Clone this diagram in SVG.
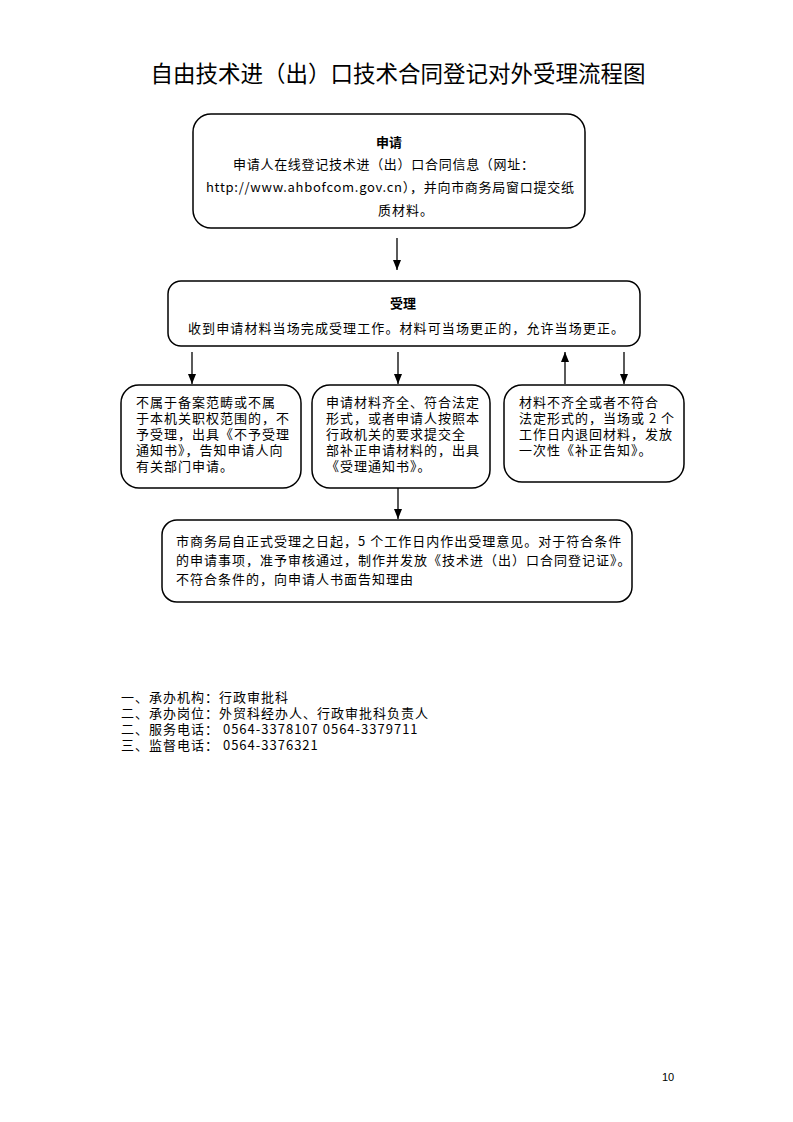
<svg xmlns="http://www.w3.org/2000/svg" width="793" height="1122" viewBox="0 0 793 1122">
<defs>
<marker id="ah" markerWidth="10" markerHeight="8" refX="10" refY="4" orient="auto" markerUnits="userSpaceOnUse" viewBox="0 0 10 8">
<path d="M0,0 L10,4 L0,8 Z" fill="#000"/>
</marker>
<style>
.box{fill:#fff;stroke:#000;stroke-width:1.5}
.t{font-family:"Noto Sans CJK SC","Noto Sans",sans-serif;font-size:13px;letter-spacing:1px;fill:#000}
.b{font-weight:bold;letter-spacing:0}
.c{stroke:#000;stroke-width:1.3;fill:none}
</style>
</defs>
<rect width="793" height="1122" fill="#fff"/>
<text x="398" y="82" text-anchor="middle" style="font-family:'Noto Sans CJK SC',sans-serif;font-size:22.5px;fill:#000">自由技术进（出）口技术合同登记对外受理流程图</text>

<g id="node-apply">
<rect class="box" x="193" y="114" width="392" height="114" rx="18"/>
<text class="t b" x="389" y="147" text-anchor="middle">申请</text>
<text class="t" x="233" y="169" textLength="302" lengthAdjust="spacing">申请人在线登记技术进（出）口合同信息（网址：</text>
<text class="t" x="206" y="192" textLength="369" lengthAdjust="spacing">http://www.ahbofcom.gov.cn），并向市商务局窗口提交纸</text>
<text class="t" x="378" y="215">质材料。</text>
</g>

<g id="node-accept">
<rect class="box" x="168" y="281" width="472" height="65" rx="13"/>
<text class="t b" x="403" y="308" text-anchor="middle">受理</text>
<text class="t" x="188" y="333" textLength="437" lengthAdjust="spacing">收到申请材料当场完成受理工作。材料可当场更正的，允许当场更正。</text>
</g>

<g id="node-reject">
<rect class="box" x="121" y="385" width="180" height="103" rx="18"/>
<text class="t" x="136" y="407">不属于备案范畴或不属</text>
<text class="t" x="136" y="423">于本机关职权范围的，不</text>
<text class="t" x="136" y="439">予受理，出具《不予受理</text>
<text class="t" x="136" y="455">通知书》，告知申请人向</text>
<text class="t" x="136" y="471">有关部门申请。</text>
</g>

<g id="node-complete">
<rect class="box" x="312" y="385" width="178" height="103" rx="18"/>
<text class="t" x="326" y="407">申请材料齐全、符合法定</text>
<text class="t" x="326" y="423">形式，或者申请人按照本</text>
<text class="t" x="326" y="439">行政机关的要求提交全</text>
<text class="t" x="326" y="455">部补正申请材料的，出具</text>
<text class="t" x="326" y="471">《受理通知书》。</text>
</g>

<g id="node-incomplete">
<rect class="box" x="504" y="385" width="180" height="97" rx="18"/>
<text class="t" x="519" y="407">材料不齐全或者不符合</text>
<text class="t" x="519" y="423">法定形式的，当场或 2 个</text>
<text class="t" x="519" y="439">工作日内退回材料，发放</text>
<text class="t" x="519" y="455">一次性《补正告知》。</text>
</g>

<g id="node-decision">
<rect class="box" x="162" y="520" width="470" height="82" rx="15"/>
<text class="t" x="176" y="546">市商务局自正式受理之日起，5 个工作日内作出受理意见。对于符合条件</text>
<text class="t" x="176" y="565">的申请事项，准予审核通过，制作并发放《技术进（出）口合同登记证》。</text>
<text class="t" x="176" y="584">不符合条件的，向申请人书面告知理由</text>
</g>

<g id="connectors">
<line class="c" x1="397" y1="238" x2="397" y2="270" marker-end="url(#ah)"/>
<line class="c" x1="192" y1="352" x2="192" y2="384" marker-end="url(#ah)"/>
<line class="c" x1="398" y1="352" x2="398" y2="384" marker-end="url(#ah)"/>
<line class="c" x1="565" y1="384" x2="565" y2="352" marker-end="url(#ah)"/>
<line class="c" x1="624" y1="352" x2="624" y2="384" marker-end="url(#ah)"/>
<line class="c" x1="398" y1="488" x2="398" y2="519" marker-end="url(#ah)"/>
</g>

<g id="footer">
<text class="t" x="121" y="702">一、承办机构：行政审批科</text>
<text class="t" x="121" y="718">二、承办岗位：外贸科经办人、行政审批科负责人</text>
<text class="t" x="121" y="734">二、服务电话： 0564-3378107 0564-3379711</text>
<text class="t" x="121" y="750">三、监督电话： 0564-3376321</text>
</g>
<text x="662" y="1081" style="font-family:'Liberation Sans',sans-serif;font-size:11px;fill:#000">10</text>
</svg>
